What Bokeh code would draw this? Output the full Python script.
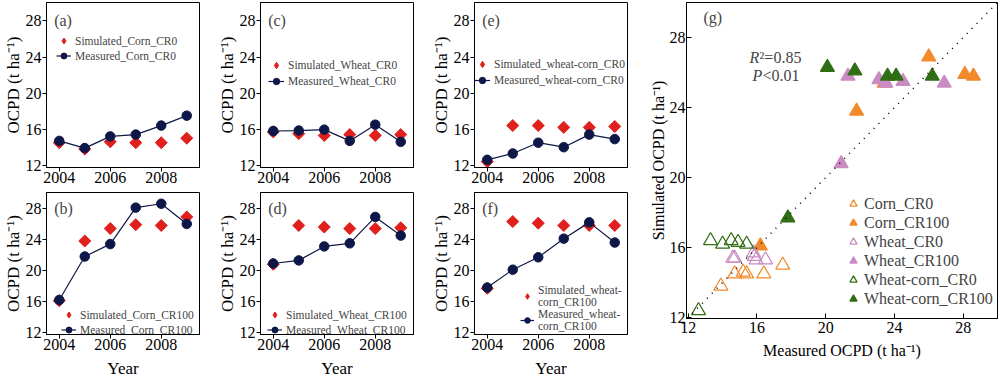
import math
from bokeh.plotting import figure
from bokeh.models import Range1d, Label, Legend, LegendItem, FixedTicker, Slope
from bokeh.layouts import row, column
from bokeh.embed import file_html
from bokeh.resources import INLINE

# ---------------- data ----------------
years = [2004, 2005, 2006, 2007, 2008, 2009]
corn_cr0_sim = [14.5, 13.8, 14.6, 14.5, 14.5, 15.0]
corn_cr0_meas = [14.7, 13.9, 15.2, 15.4, 16.4, 17.5]
corn_cr100_sim = [16.1, 23.8, 25.4, 25.9, 25.8, 26.9]
corn_cr100_meas = [16.2, 21.8, 23.4, 28.1, 28.6, 26.0]
wheat_cr0_sim = [15.7, 15.5, 15.3, 15.4, 15.3, 15.4]
wheat_cr0_meas = [15.8, 15.85, 15.95, 14.7, 16.5, 14.6]
wheat_cr100_sim = [20.8, 25.8, 25.6, 25.4, 25.4, 25.5]
wheat_cr100_meas = [20.9, 21.3, 23.1, 23.5, 26.9, 24.5]
wc_cr0_sim = [12.4, 16.4, 16.4, 16.2, 16.2, 16.3]
wc_cr0_meas = [12.6, 13.3, 14.5, 14.0, 15.4, 14.9]
wc_cr100_sim = [17.7, 26.3, 26.1, 25.8, 25.8, 25.8]
wc_cr100_meas = [17.8, 20.1, 21.7, 24.1, 26.2, 23.6]

year_ticks = [2004, 2006, 2008]
ocpd_ticks = [12, 16, 20, 24, 28]
g_ticks = [12, 16, 20, 24, 28]

# ---------------- style ----------------
SERIF = "Liberation Serif"
RED = "#e0201c"
NAVY = "#0e1848"
ORANGE = "#f28a2c"
PINK = "#c98bc2"
GREEN = "#2f6e14"
YLABEL = "OCPD (t ha\u207b\u00b9)"


def style_axes(p, tick_in=0, tick_out=4):
    p.grid.visible = False
    p.outline_line_color = "black"
    p.outline_line_width = 1
    for ax in (p.xaxis, p.yaxis):
        ax.major_tick_in = tick_in
        ax.major_tick_out = tick_out
        ax.minor_tick_line_color = None
        ax.axis_line_color = "black"
        ax.major_tick_line_color = "black"
        ax.major_label_text_font = SERIF
        ax.major_label_text_font_size = "16px"
        ax.major_label_text_color = "black"
        ax.major_label_standoff = 1
        ax.axis_label_text_font = SERIF
        ax.axis_label_text_font_style = "normal"
        ax.axis_label_text_color = "black"
        ax.axis_label_standoff = 0


def panel(tag, sim, meas, sim_lab, meas_lab, height, top, xlabel, leg_loc,
          row_h, glyph_w):
    p = figure(width=214, height=height, x_range=Range1d(2003.5, 2009.5),
               y_range=Range1d(11.75, 30.05), output_backend="svg",
               toolbar_location=None, min_border_left=43,
               min_border_right=15, min_border_top=top,
               min_border_bottom=5)
    style_axes(p)
    p.xaxis.ticker = FixedTicker(ticks=year_ticks)
    p.yaxis.ticker = FixedTicker(ticks=ocpd_ticks)
    p.xaxis.major_label_standoff = 0
    p.yaxis.axis_label = YLABEL
    p.yaxis.axis_label_text_font_size = "17px"
    if xlabel:
        p.xaxis.axis_label = "Year"
        p.xaxis.axis_label_text_font_size = "17px"
        p.xaxis.axis_label_standoff = 6
    p.scatter(years, sim, marker="square", angle=math.pi / 4, size=8.5,
              fill_color=RED, line_color=RED)
    ln = p.line(years, meas, line_color=NAVY, line_width=1.2)
    c = p.scatter(years, meas, marker="circle", size=9.5, fill_color=NAVY,
                  line_color=NAVY)
    # hidden copy of the simulated series, used only as a diamond legend key
    key = p.scatter(years, sim, marker="diamond", size=10, fill_color=RED,
                    line_color=RED, visible=False)
    leg = Legend(items=[LegendItem(label=sim_lab, renderers=[key]),
                        LegendItem(label=meas_lab, renderers=[ln, c])],
                 location=leg_loc, border_line_color=None,
                 background_fill_alpha=0, label_text_font=SERIF,
                 label_text_font_size="11.5px", glyph_width=glyph_w,
                 glyph_height=row_h, label_height=row_h, spacing=0,
                 padding=0, margin=0, label_standoff=4,
                 inactive_fill_alpha=0)
    p.add_layout(leg)
    p.add_layout(Label(x=2003.8, y=28, text=tag, text_font=SERIF,
                       text_font_size="16px", text_baseline="middle"))
    return p


TOP_H = 185
BOT_H = 195

pa = panel("(a)", corn_cr0_sim, corn_cr0_meas, "Simulated_Corn_CR0",
           "Measured_Corn_CR0", TOP_H, 2, False, (10, 104), 15, 15)
pb = panel("(b)", corn_cr100_sim, corn_cr100_meas, "Simulated_Corn_CR100",
           "Measured_Corn_CR100", BOT_H, 7, True, (15, -3), 15, 15)
pc = panel("(c)", wheat_cr0_sim, wheat_cr0_meas, "Simulated_Wheat_CR0",
           "Measured_Wheat_CR0", TOP_H, 2, False, (8, 78), 16, 16)
pd = panel("(d)", wheat_cr100_sim, wheat_cr100_meas, "Simulated_Wheat_CR100",
           "Measured_Wheat_CR100", BOT_H, 7, True, (7, -3), 15, 15)
pe = panel("(e)", wc_cr0_sim, wc_cr0_meas, "Simulated_wheat-corn_CR0",
           "Measured_wheat-corn_CR0", TOP_H, 2, False, (0, 79), 16, 16)
pf = panel("(f)", wc_cr100_sim, wc_cr100_meas, "Simulated_wheat-\ncorn_CR100",
           "Measured_wheat-\ncorn_CR100", BOT_H, 7, True, (46, 2), 14, 14)

# ---------------- panel g ----------------
pg = figure(width=358, height=380, x_range=Range1d(11.9, 30.0),
            y_range=Range1d(11.95, 30.0), output_backend="svg",
            toolbar_location=None, min_border_left=44, min_border_right=3,
            min_border_top=2, min_border_bottom=62)
style_axes(pg, tick_in=5, tick_out=0)
pg.xaxis.ticker = FixedTicker(ticks=g_ticks)
pg.yaxis.ticker = FixedTicker(ticks=g_ticks)
pg.xaxis.axis_label = "Measured OCPD (t ha\u207b\u00b9)"
pg.yaxis.axis_label = "Simulated OCPD (t ha\u207b\u00b9)"
pg.xaxis.axis_label_text_font_size = "16px"
pg.yaxis.axis_label_text_font_size = "16px"
pg.xaxis.major_label_standoff = 3
pg.xaxis.axis_label_standoff = 6

pg.add_layout(Slope(gradient=1, y_intercept=0, line_color="black",
                    line_width=1.5, line_dash="1 6"))

groups = [
    ("Corn_CR0", corn_cr0_meas, corn_cr0_sim, ORANGE, False),
    ("Corn_CR100", corn_cr100_meas, corn_cr100_sim, ORANGE, True),
    ("Wheat_CR0", wheat_cr0_meas, wheat_cr0_sim, PINK, False),
    ("Wheat_CR100", wheat_cr100_meas, wheat_cr100_sim, PINK, True),
    ("Wheat-corn_CR0", wc_cr0_meas, wc_cr0_sim, GREEN, False),
    ("Wheat-corn_CR100", wc_cr100_meas, wc_cr100_sim, GREEN, True),
]
items = []
for name, mx, sy, col, filled in groups:
    r = pg.scatter(mx, sy, marker="triangle", size=14, line_color=col,
                   line_width=1.2, fill_color=col if filled else None)
    items.append(LegendItem(label=name, renderers=[r]))
gleg = Legend(items=items, location=(158, 10), border_line_color=None,
              background_fill_alpha=0, label_text_font=SERIF,
              label_text_font_size="16px", glyph_width=18, glyph_height=19,
              label_height=19, spacing=0, padding=0, margin=0,
              label_standoff=2)
pg.add_layout(gleg)

pg.add_layout(Label(x=12.89, y=29.14, text="(g)", text_font=SERIF,
                    text_font_size="16px", text_baseline="middle"))
pg.add_layout(Label(x=15.57, y=26.86, text="R", text_font=SERIF,
                    text_font_style="italic", text_font_size="16px",
                    text_baseline="middle"))
pg.add_layout(Label(x=15.57, y=26.86, x_offset=10, text="\u00b2=0.85",
                    text_font=SERIF, text_font_size="16px",
                    text_baseline="middle"))
pg.add_layout(Label(x=15.74, y=25.83, text="P", text_font=SERIF,
                    text_font_style="italic", text_font_size="16px",
                    text_baseline="middle"))
pg.add_layout(Label(x=15.74, y=25.83, x_offset=10, text="<0.01",
                    text_font=SERIF, text_font_size="16px",
                    text_baseline="middle"))

layout = row(column(pa, pb), column(pc, pd), column(pe, pf), pg)
open("out.html", "w").write(file_html(layout, INLINE))
